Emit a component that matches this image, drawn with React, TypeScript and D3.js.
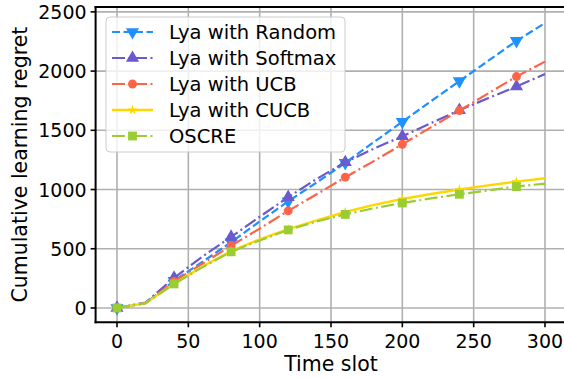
import React from "react";
import * as d3 from "d3";

const timeSlots = [0, 20, 40, 60, 80, 100, 120, 140, 160, 180, 200, 220, 240, 260, 280, 300];
const randomVals = [0, 40, 230, 390, 555, 730, 900, 1060, 1225, 1400, 1572, 1745, 1915, 2085, 2255, 2405];
const softmaxVals = [0, 45, 255, 435, 600, 770, 935, 1090, 1230, 1345, 1450, 1560, 1670, 1770, 1870, 1975];
const ucbVals = [0, 40, 225, 375, 525, 670, 820, 960, 1104, 1240, 1382, 1525, 1667, 1810, 1954, 2080];
const cucbVals = [0, 40, 205, 350, 480, 580, 665, 740, 810, 870, 920, 962, 1000, 1035, 1067, 1095];
const oscreVals = [0, 40, 203, 345, 474, 570, 659, 730, 790, 842, 886, 925, 960, 993, 1025, 1050];

const seriesNames = ["Lya with Random", "Lya with Softmax", "Lya with UCB", "Lya with CUCB", "OSCRE"];
const xTicks = [0, 50, 100, 150, 200, 250, 300];
const yTicks = [0, 500, 1000, 1500, 2000, 2500];

const W = 564, H = 378;
const FONT = "DejaVu Sans, sans-serif";

type Style = { color: string; dash: string | null; marker: "tdown" | "tup" | "circle" | "star" | "square"; width: number };
const styles: Style[] = [
  { color: "#1E90FF", dash: "8,3.5", marker: "tdown", width: 2.2 },
  { color: "#6A5ACD", dash: "13,3.5,2,3.5", marker: "tup", width: 2.2 },
  { color: "#FF6347", dash: "13,3.5,2,3.5", marker: "circle", width: 2.2 },
  { color: "#FFD700", dash: null, marker: "star", width: 2.4 },
  { color: "#9ACD32", dash: "13,3.5,2,3.5", marker: "square", width: 2.2 },
];

function markerPath(m: Style["marker"]): { d: string; rot: number } {
  switch (m) {
    case "tdown": return { d: d3.symbol(d3.symbolTriangle, 75)()!, rot: 180 };
    case "tup": return { d: d3.symbol(d3.symbolTriangle, 75)()!, rot: 0 };
    case "circle": return { d: d3.symbol(d3.symbolCircle, 62)()!, rot: 0 };
    case "star": return { d: d3.symbol(d3.symbolStar, 30)()!, rot: 0 };
    case "square": return { d: d3.symbol(d3.symbolSquare, 78)()!, rot: 0 };
  }
}

export default function App() {
  const x = d3.scaleLinear().domain([-15, 315]).range([95.6, 566.4]);
  const y = d3.scaleLinear().domain([-121, 2541]).range([322.3, 7.0]);
  const allVals = [randomVals, softmaxVals, ucbVals, cucbVals, oscreVals];
  const line = d3.line<number>().x((_, i) => x(timeSlots[i])).y((v) => y(v));

  const left = x(-15), right = x(315), top = y(2541), bottom = y(-121);

  return (
    <svg width={W} height={H} style={{ position: "absolute", left: 0, top: 0, background: "#fff" }}>
      <rect x={0} y={0} width={W} height={H} fill="#fff" />
      {/* grid */}
      <g stroke="#b0b0b0" strokeWidth={1.6}>
        {xTicks.map((t) => (
          <line key={"gx" + t} x1={x(t)} x2={x(t)} y1={top} y2={bottom} />
        ))}
        {yTicks.map((t) => (
          <line key={"gy" + t} x1={left} x2={right} y1={y(t)} y2={y(t)} />
        ))}
      </g>
      {/* series */}
      {allVals.map((vals, si) => {
        const st = styles[si];
        const mp = markerPath(st.marker);
        return (
          <g key={"s" + si}>
            <path d={line(vals)!} fill="none" stroke={st.color} strokeWidth={st.width} strokeDasharray={st.dash ?? undefined} />
            {vals.map((v, i) =>
              i % 2 === 0 ? (
                <path key={i} d={mp.d} fill={st.color} transform={`translate(${x(timeSlots[i])},${y(v)}) rotate(${mp.rot})`} />
              ) : null
            )}
          </g>
        );
      })}
      {/* spines */}
      <g stroke="#000" strokeWidth={2}>
        <line x1={left} x2={left} y1={top - 1} y2={bottom + 1} />
        <line x1={left - 1} x2={right} y1={bottom} y2={bottom} />
        <line x1={left - 1} x2={right} y1={top} y2={top} />
      </g>
      {/* ticks */}
      <g stroke="#000" strokeWidth={1.6}>
        {xTicks.map((t) => (
          <line key={"tx" + t} x1={x(t)} x2={x(t)} y1={bottom} y2={bottom + 5} />
        ))}
        {yTicks.map((t) => (
          <line key={"ty" + t} x1={left} x2={left - 5} y1={y(t)} y2={y(t)} />
        ))}
      </g>
      <g fontFamily={FONT} fontSize={19} fill="#000">
        {xTicks.map((t) => (
          <text key={"lx" + t} x={x(t)} y={bottom + 26} textAnchor="middle">{t}</text>
        ))}
        {yTicks.map((t) => (
          <text key={"ly" + t} x={left - 9} y={y(t)} textAnchor="end" dominantBaseline="central">{t}</text>
        ))}
      </g>
      <text x={331} y={370.5} textAnchor="middle" fontFamily={FONT} fontSize={20.5}>Time slot</text>
      <text transform={`translate(27,${(top + bottom) / 2}) rotate(-90)`} textAnchor="middle" fontFamily={FONT} fontSize={20.5}>Cumulative learning regret</text>
      {/* legend */}
      <g>
        <rect x={106} y={17} width={239} height={135} rx={4} fill="#fff" fillOpacity={0.8} stroke="#cccccc" strokeWidth={1} />
        {seriesNames.map((name, i) => {
          const st = styles[i];
          const mp = markerPath(st.marker);
          const ly = 32 + i * 26;
          return (
            <g key={"lg" + i}>
              <line x1={112} x2={153} y1={ly} y2={ly} stroke={st.color} strokeWidth={st.width} strokeDasharray={st.dash ?? undefined} />
              <path d={mp.d} fill={st.color} transform={`translate(132.5,${ly}) rotate(${mp.rot})`} />
              <text x={169} y={ly} dominantBaseline="central" fontFamily={FONT} fontSize={19.5}>{name}</text>
            </g>
          );
        })}
      </g>
    </svg>
  );
}
